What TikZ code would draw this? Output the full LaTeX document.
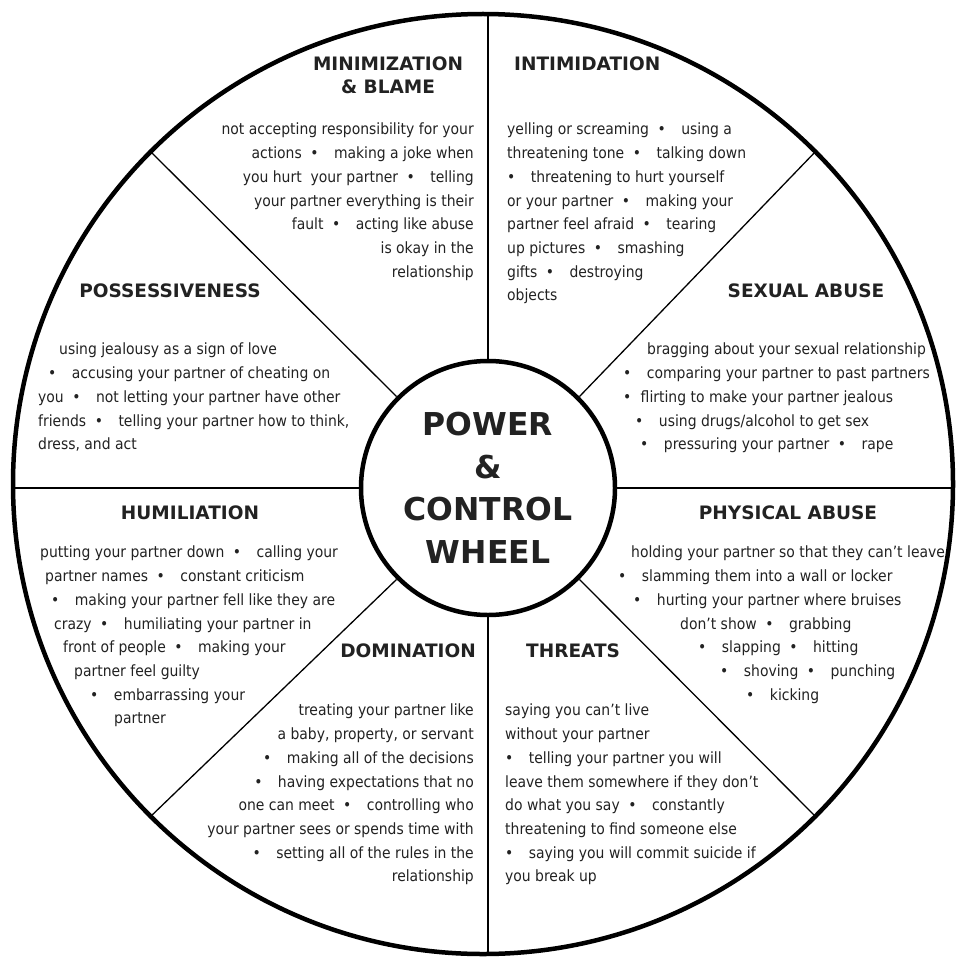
\documentclass[tikz,border=0pt]{standalone}
\usepackage{fontspec}
\setmainfont{DejaVu Sans Condensed}
\newfontfamily\headfont{DejaVu Sans}
\newcommand{\wbul}{\hspace{.55em}•\hspace{1em}}
\newcommand{\lbul}{•\hspace{1em}}
\definecolor{inkgray}{HTML}{222222}
\tikzset{
  rimline/.style={draw=black, line width=4.5pt},
  spoke/.style={draw=black, line width=1.3pt},
  heading/.style={font=\headfont\bfseries\fontsize{18.5}{23}\selectfont, text=inkgray, inner sep=0pt},
  body/.style={font=\fontsize{15.5}{23.7}\selectfont, text=inkgray, inner sep=0pt},
}
\begin{document}
\begin{tikzpicture}[x=1pt,y=-1pt]
\useasboundingbox (0,0) rectangle (956,963);
\fill[white] (0,0) rectangle (956,963);
% wheel
\node[circle, rimline, minimum size=940pt, inner sep=0pt] (rim) at (483,484) {};
\node[circle, rimline, fill=white, minimum size=254pt, inner sep=0pt, align=center,
  font=\headfont\bfseries\fontsize{31.5}{42.5}\selectfont, text=inkgray] (hub) at (488,488)
  {POWER\\\&\\CONTROL\\WHEEL};
\draw[spoke] (hub.90) -- (hub.90 |- rim.north);
\draw[spoke] (hub.270) -- (hub.270 |- rim.south);
\draw[spoke] (hub.180) -- (hub.180 -| rim.west);
\draw[spoke] (hub.0) -- (hub.0 -| rim.east);
\foreach \a in {45,135,225,315}
  \draw[spoke] (hub.\a) -- (rim.\a);
% minimization & blame
\node[heading, align=center, anchor=north] (minh) at (388,57) {MINIMIZATION\\\& BLAME};
\node[body, align=right, anchor=north east] (minb) at (474,123) {%
not accepting responsibility for your\\
actions\wbul making a joke when\\
you hurt\ \ your partner\wbul telling\\
your partner everything is their\ \\
fault\wbul acting like abuse\\
is okay in the\\
relationship};
% intimidation
\node[heading, anchor=north west] (inth) at (514,57) {INTIMIDATION};
\node[body, align=left, anchor=north west] (intb) at (507,123) {%
yelling or screaming\wbul using a\\
threatening tone\wbul talking down\\
\lbul threatening to hurt yourself\\
or your partner\wbul making your\\
partner feel afraid\wbul tearing\\
up pictures\wbul smashing\\
gifts\wbul destroying\\
objects};
% possessiveness
\node[heading, anchor=north] (posh) at (170,284) {POSSESSIVENESS};
\node[body, align=left, anchor=north west] (posb) at (38,343) {%
\hspace*{21pt}using jealousy as a sign of love\\
\hspace*{10pt}\lbul accusing your partner of cheating on\\
you\wbul not letting your partner have other\\
friends\wbul telling your partner how to think,\\
dress, and act};
% sexual abuse
\node[heading, anchor=north] (sexh) at (806,284) {SEXUAL ABUSE};
\node[body, align=left, anchor=north west] (sexb) at (623,343) {%
\hspace*{24pt}bragging about your sexual relationship\\
\lbul comparing your partner to past partners\\
•\hspace{.6em}flirting to make your partner jealous\\
\hspace*{12pt}\lbul using drugs/alcohol to get sex\\
\hspace*{17pt}\lbul pressuring your partner\wbul rape};
% humiliation
\node[heading, anchor=north] (humh) at (190,506) {HUMILIATION};
\node[body, align=left, anchor=north west] (humb) at (40,546) {%
putting your partner down\wbul calling your\\
\hspace*{5pt}partner names\wbul constant criticism\\
\hspace*{11pt}\lbul making your partner fell like they are\\
\hspace*{14pt}crazy\wbul humiliating your partner in\\
\hspace*{23pt}front of people\wbul making your\\
\hspace*{34pt}partner feel guilty\\
\hspace*{50pt}\lbul embarrassing your\\
\hspace*{74pt}partner};
% physical abuse
\node[heading, anchor=north] (phyh) at (788,506) {PHYSICAL ABUSE};
\node[body, align=left, anchor=north west] (phyb) at (618,546) {%
\hspace*{13pt}holding your partner so that they can’t leave\\
\lbul slamming them into a wall or locker\\
\hspace*{15pt}\lbul hurting your partner where bruises\\
\hspace*{62pt}don’t show\wbul grabbing\\
\hspace*{80pt}\lbul slapping\wbul hitting\\
\hspace*{102pt}\lbul shoving\wbul punching\\
\hspace*{128pt}\lbul kicking};
% domination
\node[heading, anchor=north east] (domh) at (476,644) {DOMINATION};
\node[body, align=right, anchor=north east] (domb) at (474,704) {%
treating your partner like\\
a baby, property, or servant\ \\
\lbul making all of the decisions\\
\lbul having expectations that no\\
one can meet\wbul controlling who\\
your partner sees or spends time with\\
\lbul setting all of the rules in the\\
relationship};
% threats
\node[heading, anchor=north west] (thrh) at (526,644) {THREATS};
\node[body, align=left, anchor=north west] (thrb) at (505,704) {%
saying you can’t live\\
without your partner\\
\lbul telling your partner you will\\
leave them somewhere if they don’t\\
do what you say\wbul constantly\\
threatening to find someone else\\
\lbul saying you will commit suicide if\\
you break up};
\end{tikzpicture}
\end{document}
